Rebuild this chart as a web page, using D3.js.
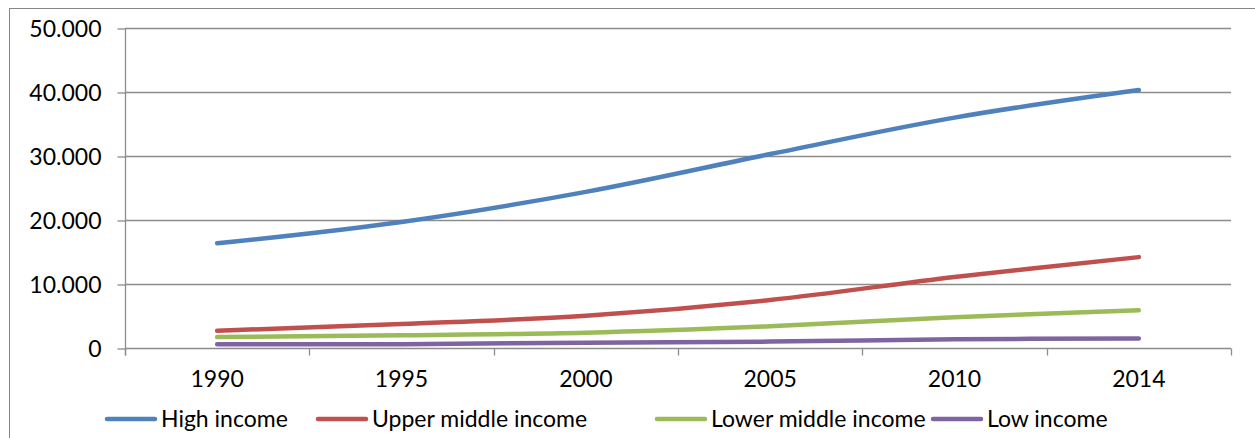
<!DOCTYPE html>
<html><head><meta charset="utf-8">
<script src="https://cdn.jsdelivr.net/npm/d3@7"></script>
<style>
html,body{margin:0;padding:0;background:#fff;}
svg{display:block;}
text{font-family:Lato,"Open Sans",sans-serif;fill:#000;}
</style></head>
<body>
<svg id="chart" width="1255" height="438"></svg>
<script>
const years = ["1990","1995","2000","2005","2010","2014"];
const highIncome = [16.35, 19.7, 24.4, 30.3, 36.0, 40.3];
const upperMiddle = [2.7, 3.75, 5.05, 7.5, 11.1, 14.2];
const lowerMiddle = [1.7, 2.0, 2.4, 3.4, 4.8, 5.9];
const lowIncome = [0.58, 0.6, 0.83, 1.0, 1.35, 1.5];
const seriesNames = ["High income","Upper middle income","Lower middle income","Low income"];
const yTicks = [0, 10, 20, 30, 40, 50];
const yTickLabels = ["0","10.000","20.000","30.000","40.000","50.000"];

const colors = ["#4F81BD","#C0504D","#9BBB59","#8064A2"];
const series = [highIncome, upperMiddle, lowerMiddle, lowIncome].map((v,i)=>({name:seriesNames[i], values:v, color:colors[i]}));

const svg = d3.select("#chart");
const pLeft = 125, pRight = 1231, pTop = 28, pBottom = 348;
const x = d3.scaleBand().domain(years).range([pLeft, pRight]).padding(0);
const y = d3.scaleLinear().domain([0, 50]).range([pBottom, pTop]);

// outer border
svg.append("rect").attr("x",9.5).attr("y",8.5).attr("width",1260).attr("height",450)
  .attr("fill","none").attr("stroke","#868686").attr("stroke-width",1);

// gridlines
svg.append("g").selectAll("line").data(yTicks.slice(1)).join("line")
  .attr("x1",pLeft).attr("x2",pRight)
  .attr("y1",d=>Math.round(y(d))+0.5).attr("y2",d=>Math.round(y(d))+0.5)
  .attr("stroke","#8c8c8c").attr("stroke-width",1.3);

// y axis
const yAxis = d3.axisLeft(y).tickValues(yTicks).tickSize(8).tickPadding(16)
  .tickFormat((d,i)=>yTickLabels[i]);
const gy = svg.append("g").attr("transform",`translate(${pLeft+0.5},0.5)`).call(yAxis);
gy.select(".domain").attr("stroke","#8c8c8c").attr("stroke-width",1.3).attr("d",`M0,${pTop}V${pBottom+7}`);
gy.selectAll(".tick line").attr("stroke","#8c8c8c").attr("stroke-width",1.3);
gy.selectAll(".tick text").style("font-size","23px").style("font-family","Lato").attr("dy","0.35em");

// x axis
const xAxis = d3.axisBottom(x).tickSize(0).tickPadding(30);
const gx = svg.append("g").attr("transform",`translate(0,${pBottom+0.5})`).call(xAxis);
gx.select(".domain").attr("stroke","#8c8c8c").attr("stroke-width",1.3).attr("d",`M${pLeft},0H${pRight}`);
gx.selectAll(".tick text").style("font-size","23px").style("font-family","Lato").attr("dy","0.35em");
// category boundary ticks
const bounds = years.map(d=>x(d)).concat([x(years[years.length-1])+x.bandwidth()]);
gx.append("g").selectAll("line").data(bounds).join("line")
  .attr("x1",d=>Math.round(d)+0.5).attr("x2",d=>Math.round(d)+0.5)
  .attr("y1",0).attr("y2",7).attr("stroke","#8c8c8c").attr("stroke-width",1.3);

// lines
const line = d3.line()
  .x((d,i)=>x(years[i])+x.bandwidth()/2)
  .y(d=>y(d))
  .curve(d3.curveCatmullRom.alpha(0));
svg.append("g").selectAll("path").data(series.slice().reverse()).join("path")
  .attr("d",d=>line(d.values))
  .attr("fill","none").attr("stroke",d=>d.color).attr("stroke-width",4.5)
  .attr("stroke-linecap","round").attr("stroke-linejoin","round");

// legend
const legendX = [107, 318, 657, 933];
const legendY = 419;
const lg = svg.append("g").selectAll("g").data(series).join("g")
  .attr("transform",(d,i)=>`translate(${legendX[i]},${legendY})`);
lg.append("line").attr("x1",0).attr("x2",48).attr("y1",0).attr("y2",0)
  .attr("stroke",d=>d.color).attr("stroke-width",4.5).attr("stroke-linecap","round");
lg.append("text").attr("x",54).attr("y",0).attr("dy","0.35em")
  .style("font-size","23px").text(d=>d.name);
</script>
</body></html>
